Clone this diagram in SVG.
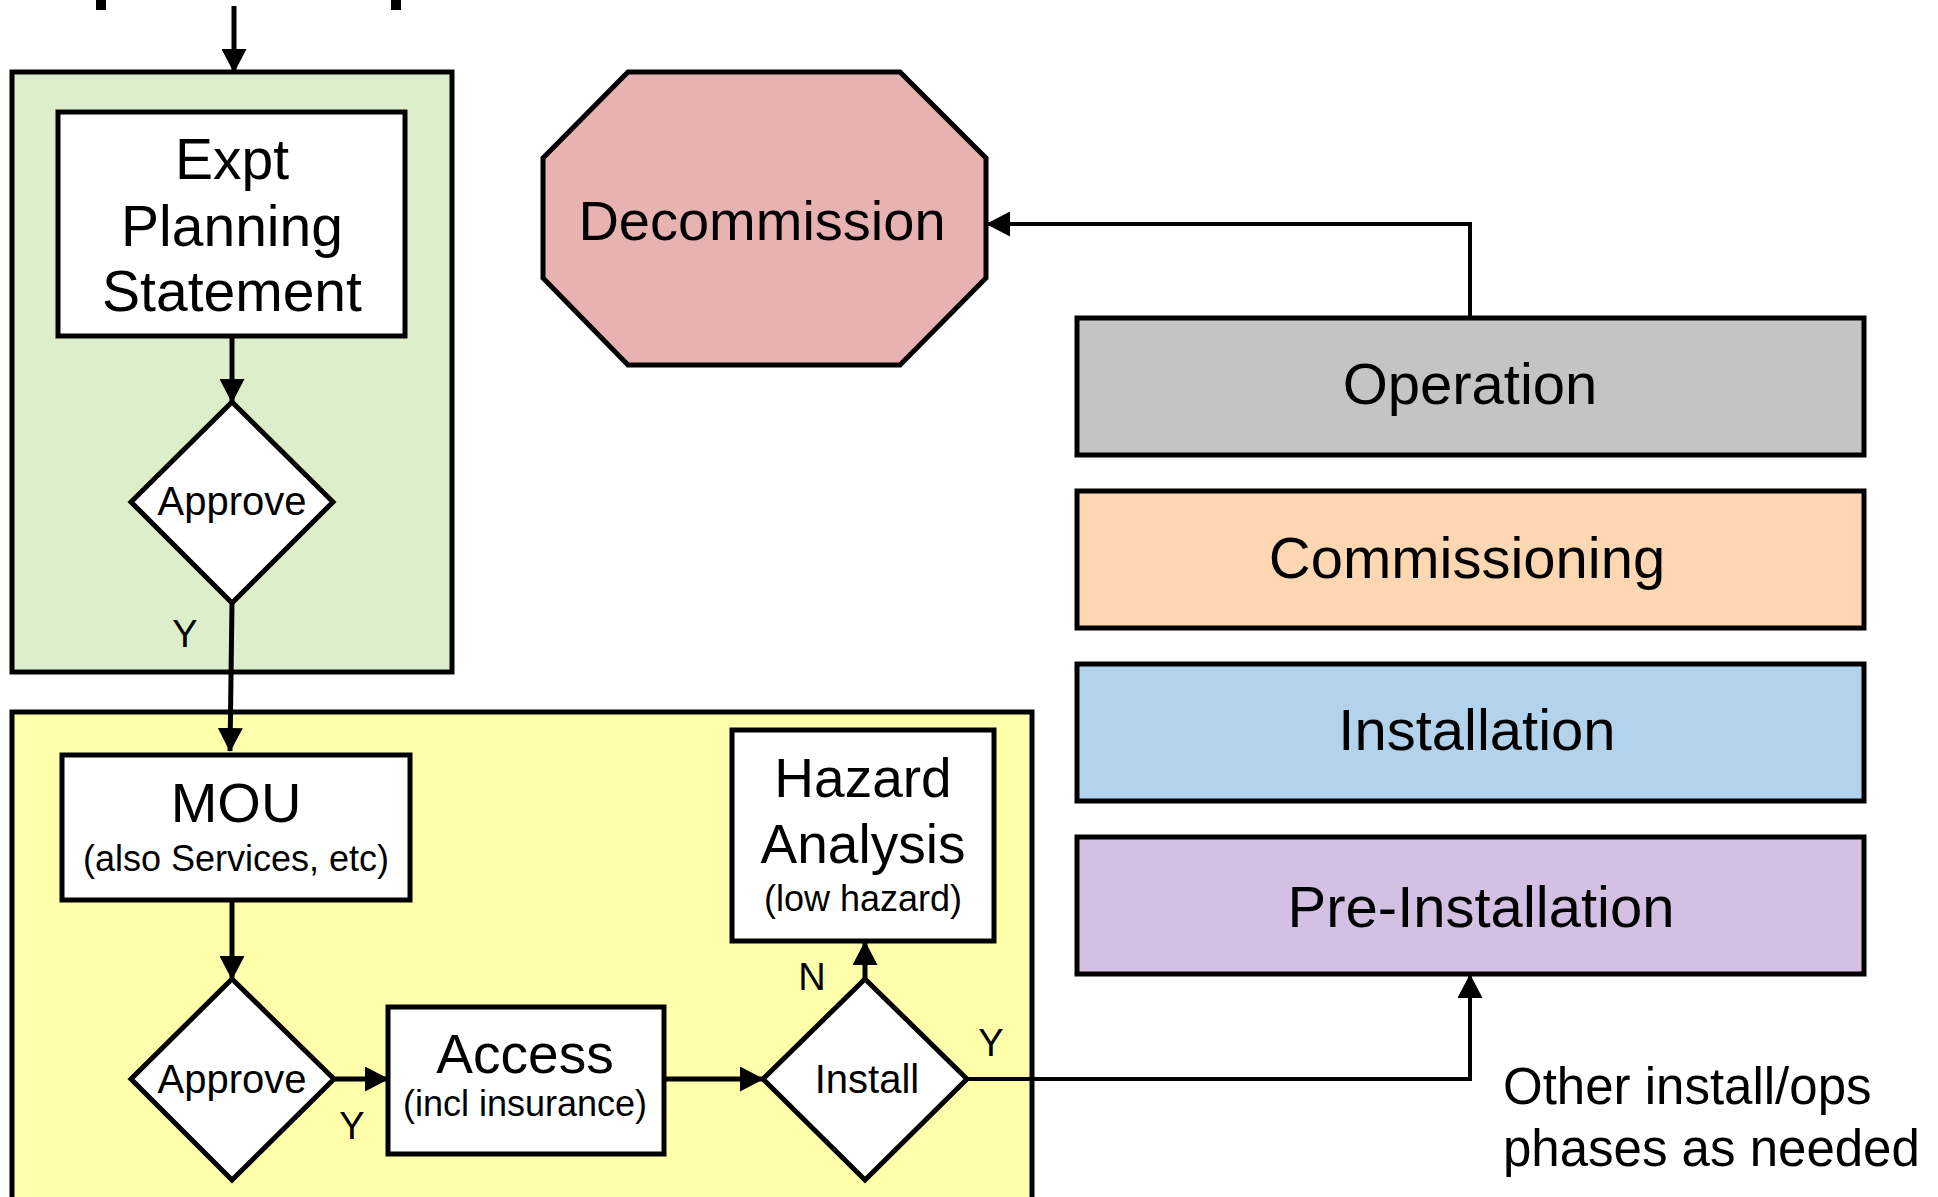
<svg xmlns="http://www.w3.org/2000/svg" width="1938" height="1197" viewBox="0 0 1938 1197">
  <style>
    .frame { stroke: #000; stroke-width: 5; }
    .box { fill: #fff; stroke: #000; stroke-width: 5; }
    .phase { stroke: #000; stroke-width: 5; }
    .wire { fill: none; stroke: #000; stroke-width: 5; }
    .wire.thin { stroke-width: 4; }
    text { font-family: "Liberation Sans", Arial, sans-serif; fill: #000; }
    .c { text-anchor: middle; }
  </style>
  <defs>
    <marker id="arrow" markerUnits="userSpaceOnUse" markerWidth="24" markerHeight="25" viewBox="0 0 24 25" refX="23" refY="12.5" orient="auto">
      <path d="M0,0 L24,12.5 L0,25 Z" fill="#000"/>
    </marker>
  </defs>

  <rect width="1938" height="1197" fill="#fff"/>

  <!-- fragments of a heading above the frame -->
  <rect x="96" y="0" width="10" height="10" fill="#000"/>
  <rect x="391" y="0" width="10" height="10" fill="#000"/>

  <!-- group frames -->
  <g id="planning-frame">
    <rect class="frame" x="12" y="72" width="440" height="600" fill="#ddefca"/>
  </g>
  <g id="agreement-frame">
    <rect class="frame" x="12" y="712" width="1020" height="500" fill="#ffffab"/>
  </g>

  <g id="expt-planning">
    <rect class="box" x="58" y="112" width="347" height="224"/>
    <text class="c" x="232" y="179" font-size="57">Expt</text>
    <text class="c" x="232" y="246" font-size="57">Planning</text>
    <text class="c" x="232" y="311" font-size="57">Statement</text>
  </g>

  <g id="approve-1">
    <polygon class="box" points="232,402 333,502 232,603 131,502"/>
    <text class="c" x="232" y="515" font-size="40">Approve</text>
  </g>

  <g id="mou">
    <rect class="box" x="62" y="755" width="348" height="145"/>
    <text class="c" x="236" y="822" font-size="56">MOU</text>
    <text class="c" x="236" y="871" font-size="36">(also Services, etc)</text>
  </g>

  <g id="approve-2">
    <polygon class="box" points="232,979 334,1079 232,1180 131,1079"/>
    <text class="c" x="232" y="1093" font-size="40">Approve</text>
  </g>

  <g id="access">
    <rect class="box" x="388" y="1007" width="276" height="147"/>
    <text class="c" x="525" y="1073" font-size="55">Access</text>
    <text class="c" x="525" y="1116" font-size="36">(incl insurance)</text>
  </g>

  <g id="install">
    <polygon class="box" points="865,979 967,1079 865,1180 763,1079"/>
    <text class="c" x="867" y="1093" font-size="40">Install</text>
  </g>

  <g id="hazard-analysis">
    <rect class="box" x="732" y="730" width="262" height="211"/>
    <text class="c" x="863" y="797" font-size="55">Hazard</text>
    <text class="c" x="863" y="863" font-size="55">Analysis</text>
    <text class="c" x="863" y="911" font-size="36">(low hazard)</text>
  </g>

  <g id="decommission">
    <polygon class="phase" fill="#e9b2b2" points="628,72 900,72 986,158 986,278 900,365 628,365 543,278 543,158"/>
    <text class="c" x="762" y="240" font-size="56">Decommission</text>
  </g>

  <g id="operation">
    <rect class="phase" x="1077" y="318" width="787" height="137" fill="#c4c4c4"/>
    <text class="c" x="1470" y="404" font-size="58">Operation</text>
  </g>

  <g id="commissioning">
    <rect class="phase" x="1077" y="491" width="787" height="137" fill="#fdd7b2"/>
    <text class="c" x="1467" y="578" font-size="58">Commissioning</text>
  </g>

  <g id="installation">
    <rect class="phase" x="1077" y="664" width="787" height="137" fill="#b3d3ec"/>
    <text class="c" x="1477" y="750" font-size="58">Installation</text>
  </g>

  <g id="pre-installation">
    <rect class="phase" x="1077" y="837" width="787" height="137" fill="#d4c0e2"/>
    <text class="c" x="1481" y="927" font-size="58">Pre-Installation</text>
  </g>

  <g id="note">
    <text x="1503" y="1104" font-size="51">Other install/ops</text>
    <text x="1503" y="1166" font-size="51">phases as needed</text>
  </g>

  <!-- connectors -->
  <g id="connectors">
    <path class="wire" d="M234,6 L234,72" marker-end="url(#arrow)"/>
    <path class="wire" d="M232,336 L232,402" marker-end="url(#arrow)"/>
    <path class="wire" d="M232,603 L230,751" marker-end="url(#arrow)"/>
    <path class="wire" d="M232,900 L232,979" marker-end="url(#arrow)"/>
    <path class="wire" d="M334,1079 L388,1079" marker-end="url(#arrow)"/>
    <path class="wire" d="M664,1079 L763,1079" marker-end="url(#arrow)"/>
    <path class="wire" d="M865,979 L865,942" marker-end="url(#arrow)"/>
    <path class="wire thin" d="M967,1079 L1470,1079 L1470,975" marker-end="url(#arrow)"/>
    <path class="wire thin" d="M1470,318 L1470,224 L987,224" marker-end="url(#arrow)"/>
  </g>

  <!-- branch labels -->
  <g id="labels">
    <text class="c" x="185" y="647" font-size="38">Y</text>
    <text class="c" x="352" y="1139" font-size="38">Y</text>
    <text class="c" x="812" y="990" font-size="38">N</text>
    <text class="c" x="991" y="1056" font-size="38">Y</text>
  </g>
</svg>
